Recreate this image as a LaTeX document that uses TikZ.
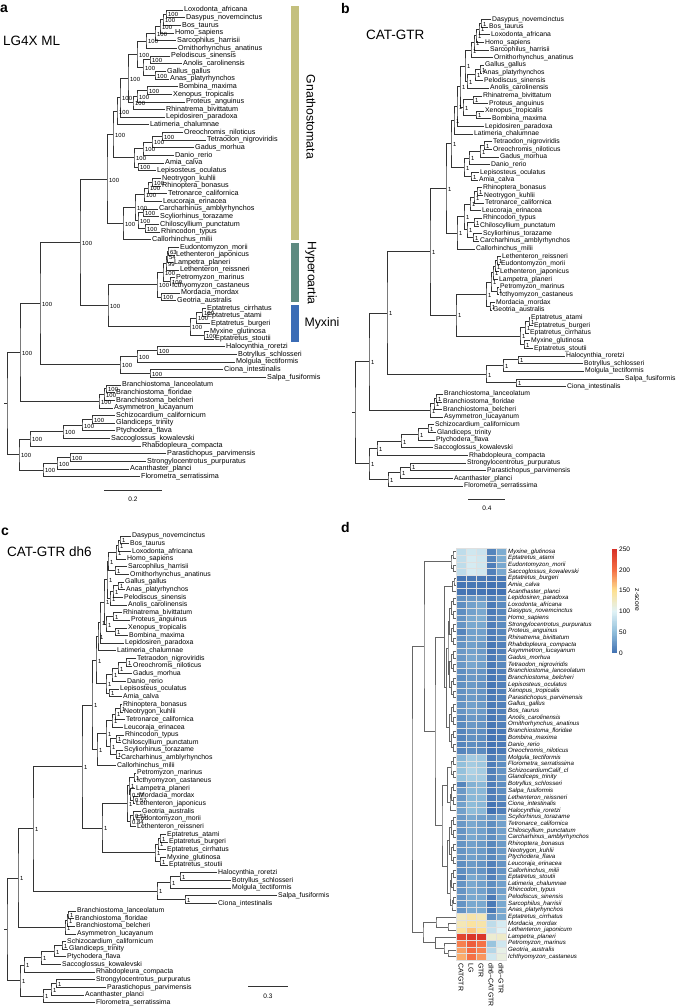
\documentclass[tikz,border=0pt]{standalone}
\usepackage{fontspec}
\setmainfont{Liberation Sans}
\usetikzlibrary{calc}

\definecolor{gnathcol}{RGB}{196,192,126}
\definecolor{hypercol}{RGB}{94,138,128}
\definecolor{myxcol}{RGB}{59,108,181}
\definecolor{z0}{RGB}{66,114,178}
\definecolor{z50}{RGB}{145,191,219}
\definecolor{z100}{RGB}{226,243,246}
\definecolor{z150}{RGB}{254,224,144}
\definecolor{z200}{RGB}{244,109,67}
\definecolor{z250}{RGB}{215,48,39}

\newcommand{\tfont}{\fontsize{7}{8}\selectfont}
\newcommand{\sfont}{\fontsize{5.9}{6}\selectfont}
\def\bsv{100}
\def\ytop{10}
\def\dy{7.65}

\tikzset{
  br/.style={draw=black!80, line width=0.55pt},
  dbr/.style={draw=black!60, line width=0.5pt},
  taxon/.style={anchor=west, inner sep=1pt, font=\tfont},
  bsup/.style={anchor=west, inner sep=0pt, font=\sfont},
  plet/.style={anchor=base west, inner sep=0pt, font=\fontsize{14}{14}\selectfont\bfseries},
  ptitle/.style={anchor=base west, inner sep=0pt, font=\fontsize{13.5}{14}\selectfont},
  clade/.style={inner sep=0pt, font=\fontsize{12.3}{13}\selectfont},
  scl/.style={inner sep=0pt, font=\fontsize{6.5}{7}\selectfont},
  hlab/.style={anchor=west, inner sep=1pt, font=\fontsize{6.1}{6.5}\selectfont\itshape},
  collab/.style={anchor=west, rotate=-90, inner sep=1pt, font=\fontsize{6.9}{7}\selectfont},
  cbl/.style={anchor=west, inner sep=1pt, font=\fontsize{6.5}{7}\selectfont}
}

\newcommand{\tleaf}[4]{%
  \coordinate (#1) at (#2,{\ytop+(#3-1)*\dy});
  \node[taxon] (#1l) at (#1) {#4};}
\newcommand{\tjoin}[5][br]{%
  \path let \p1=($(#4)!0.5!(#5)$) in coordinate (#2) at (#3pt,\y1);
  \draw[#1] (#4) -| (#2) |- (#5);}
\newcommand{\tclade}[5][\bsv]{%
  \tjoin{#2}{#3}{#4}{#5}
  \node[bsup] (#2s) at ([xshift=2pt,yshift=-1pt]#2) {#1};}
\newcommand{\zcol}[1]{%
  \pgfmathsetmacro\zv{#1}%
  \ifdim\zv pt<50pt
    \pgfmathsetmacro\zp{2*\zv}\colorlet{zc}{z50!\zp!z0}%
  \else\ifdim\zv pt<100pt
    \pgfmathsetmacro\zp{2*(\zv-50)}\colorlet{zc}{z100!\zp!z50}%
  \else\ifdim\zv pt<150pt
    \pgfmathsetmacro\zp{2*(\zv-100)}\colorlet{zc}{z150!\zp!z100}%
  \else\ifdim\zv pt<200pt
    \pgfmathsetmacro\zp{2*(\zv-150)}\colorlet{zc}{z200!\zp!z150}%
  \else
    \pgfmathsetmacro\zp{2*(\zv-200)}\colorlet{zc}{z250!\zp!z200}%
  \fi\fi\fi\fi}

\begin{document}
\catcode`\_=12
\begin{tikzpicture}[x=1pt,y=-1pt]
\fill[white] (0,0) rectangle (676,1007);
\useasboundingbox (0,0) rectangle (676,1007);

% a
\node[plet] (labA) at (0,12) {a};
\node[ptitle] (titA) at (3,45) {LG4X ML};
\renewcommand{\tfont}{\fontsize{7.2}{8}\selectfont}
\def\ytop{10}\def\bsv{100}
\tleaf{aLox}{183}{1}{Loxodonta_africana}
\tleaf{aDas}{185}{2}{Dasypus_novemcinctus}
\tleaf{aBos}{181}{3}{Bos_taurus}
\tleaf{aHom}{174}{4}{Homo_sapiens}
\tleaf{aSar}{176}{5}{Sarcophilus_harrisii}
\tleaf{aOrn}{177}{6}{Ornithorhynchus_anatinus}
\tleaf{aPel}{170}{7}{Pelodiscus_sinensis}
\tleaf{aAno}{182}{8}{Anolis_carolinensis}
\tleaf{aGal}{166}{9}{Gallus_gallus}
\tleaf{aAna}{169}{10}{Anas_platyrhynchos}
\tleaf{aBom}{178}{11}{Bombina_maxima}
\tleaf{aXen}{172}{12}{Xenopus_tropicalis}
\tleaf{aPro}{185}{13}{Proteus_anguinus}
\tleaf{aRhi}{165}{14}{Rhinatrema_bivittatum}
\tleaf{aLep}{165}{15}{Lepidosiren_paradoxa}
\tleaf{aLat}{149}{16}{Latimeria_chalumnae}
\tleaf{aOre}{183}{17}{Oreochromis_niloticus}
\tleaf{aTet}{206}{18}{Tetraodon_nigroviridis}
\tleaf{aGad}{194}{19}{Gadus_morhua}
\tleaf{aDan}{174}{20}{Danio_rerio}
\tleaf{aAmi}{164}{21}{Amia_calva}
\tleaf{aLeo}{156}{22}{Lepisosteus_oculatus}
\tleaf{aNeo}{161}{23}{Neotrygon_kuhlii}
\tleaf{aRhb}{161}{24}{Rhinoptera_bonasus}
\tleaf{aTtr}{167}{25}{Tetronarce_californica}
\tleaf{aLeu}{162}{26}{Leucoraja_erinacea}
\tleaf{aCar}{158}{27}{Carcharhinus_amblyrhynchos}
\tleaf{aScy}{159}{28}{Scyliorhinus_torazame}
\tleaf{aChi}{159}{29}{Chiloscyllium_punctatum}
\tleaf{aRhc}{160}{30}{Rhincodon_typus}
\tleaf{aCal}{151}{31}{Callorhinchus_milii}
\tleaf{aEud}{179}{32}{Eudontomyzon_morii}
\tleaf{aLjp}{175}{33}{Lethenteron_japonicus}
\tleaf{aLam}{173}{34}{Lampetra_planeri}
\tleaf{aLrs}{179}{35}{Lethenteron_reissneri}
\tleaf{aPet}{175}{36}{Petromyzon_marinus}
\tleaf{aIch}{171}{37}{Icthyomyzon_castaneus}
\tleaf{aMor}{180}{38}{Mordacia_mordax}
\tleaf{aGeo}{176}{39}{Geotria_australis}
\tleaf{aEci}{206}{40}{Eptatretus_cirrhatus}
\tleaf{aEat}{206}{41}{Eptatretus_atami}
\tleaf{aEbu}{210}{42}{Eptatretus_burgeri}
\tleaf{aMyx}{209}{43}{Myxine_glutinosa}
\tleaf{aEst}{214}{44}{Eptatretus_stoutii}
\tleaf{aHal}{225}{45}{Halocynthia_roretzi}
\tleaf{aBot}{237}{46}{Botryllus_schlosseri}
\tleaf{aMol}{235}{47}{Molgula_tectiformis}
\tleaf{aCio}{223}{48}{Ciona_intestinalis}
\tleaf{aSal}{266}{49}{Salpa_fusiformis}
\tleaf{aBla}{121}{50}{Branchiostoma_lanceolatum}
\tleaf{aBfl}{115}{51}{Branchiostoma_floridae}
\tleaf{aBbe}{115}{52}{Branchiostoma_belcheri}
\tleaf{aAsy}{113}{53}{Asymmetron_lucayanum}
\tleaf{aSch}{115}{54}{Schizocardium_californicum}
\tleaf{aGla}{115}{55}{Glandiceps_trinity}
\tleaf{aPty}{115}{56}{Ptychodera_flava}
\tleaf{aSac}{110}{57}{Saccoglossus_kowalevski}
\tleaf{aRha}{141}{58}{Rhabdopleura_compacta}
\tleaf{aPar}{166}{59}{Parastichopus_parvimensis}
\tleaf{aStr}{146}{60}{Strongylocentrotus_purpuratus}
\tleaf{aAca}{129}{61}{Acanthaster_planci}
\tleaf{aFlo}{140}{62}{Florometra_serratissima}
\tclade{aP1}{166}{aLox}{aDas}
\tclade{aP2}{163}{aP1}{aBos}
\tclade{aP3}{160}{aP2}{aHom}
\tclade{aP4}{155}{aP3}{aSar}
\tclade{aMam}{146}{aP4}{aOrn}
\tclade{aP5}{150}{aPel}{aAno}
\tclade{aP6}{155}{aGal}{aAna}
\tclade{aSau}{143}{aP5}{aP6}
\tclade{aAmn}{137}{aMam}{aSau}
\tclade{aP7}{147}{aBom}{aXen}
\tclade{aP8}{137}{aP7}{aPro}
\tclade{aAmp}{133}{aP8}{aRhi}
\tclade{aTpd}{128}{aAmn}{aAmp}
\tclade{aP9}{120}{aTpd}{aLep}
\tclade{aSrc}{117}{aP9}{aLat}
\tclade{aP10}{162}{aOre}{aTet}
\tclade{aP11}{152}{aP10}{aGad}
\tclade{aTel}{143}{aP11}{aDan}
\tclade{aHol}{138}{aAmi}{aLeo}
\tclade{aAct}{134}{aTel}{aHol}
\tclade{aOst}{113}{aSrc}{aAct}
\tclade{aP12}{152}{aNeo}{aRhb}
\tclade{aP13}{148}{aP12}{aTtr}
\tclade{aBat}{144}{aP13}{aLeu}
\tclade{aP14}{143}{aCar}{aScy}
\tclade{aP15}{145}{aChi}{aRhc}
\tclade{aShk}{138}{aP14}{aP15}
\tclade{aEla}{135}{aBat}{aShk}
\tclade{aChd}{123}{aEla}{aCal}
\tclade{aGna}{107}{aOst}{aChd}
\tclade[63]{aP16}{168}{aEud}{aLjp}
\tclade[54]{aP17}{167}{aP16}{aLam}
\tclade[99]{aP18}{166}{aP17}{aLrs}
\tclade{aP19}{170}{aPet}{aIch}
\tclade{aP20}{163}{aP18}{aP19}
\tclade{aP21}{161}{aMor}{aGeo}
\tclade{aLmp}{157}{aP20}{aP21}
\tclade{aP22}{202}{aEci}{aEat}
\tclade{aP23}{196}{aP22}{aEbu}
\tclade{aP24}{204}{aMyx}{aEst}
\tclade{aHag}{190}{aP23}{aP24}
\tclade{aCyc}{108}{aLmp}{aHag}
\tclade{aVer}{80}{aGna}{aCyc}
\tclade{aP25}{157}{aHal}{aBot}
\tclade{aP26}{137}{aP25}{aMol}
\tclade{aP27}{150}{aCio}{aSal}
\tclade{aTun}{120}{aP26}{aP27}
\tclade{aOlf}{40}{aVer}{aTun}
\tclade{aP28}{106}{aBla}{aBfl}
\tclade{aP29}{104}{aP28}{aBbe}
\tclade{aCep}{99}{aP29}{aAsy}
\tclade{aCho}{20}{aOlf}{aCep}
\tclade{aP30}{92}{aSch}{aGla}
\tclade{aP31}{82}{aP30}{aPty}
\tclade{aEnt}{63}{aP31}{aSac}
\tclade{aHem}{30}{aEnt}{aRha}
\tclade{aP32}{70}{aPar}{aStr}
\tclade{aP33}{57}{aP32}{aAca}
\tclade{aEch}{43}{aP33}{aFlo}
\tclade{aAmb}{19}{aHem}{aEch}
\tjoin{aRoot}{7}{aCho}{aAmb}
\coordinate (aStub) at ($(aRoot)+(-3,0)$);
\draw[br] (aStub) -- (aRoot);
\fill[gnathcol] (291,6) rectangle (299,240);
\fill[hypercol] (291,243) rectangle (299,302);
\fill[myxcol] (291,305) rectangle (299,342);
\node[clade, rotate=-90] (gnathL) at (311,117) {Gnathostomata};
\node[clade, rotate=-90] (hyperL) at (311,273) {Hyperoartia};
\node[clade] (myxL) at (322,323) {Myxini};
\coordinate (aSb1) at (104,490);
\coordinate (aSb2) at (162,490);
\draw[br] (aSb1) -- (aSb2);
\node[scl] (aSbl) at (133,499) {0.2};

% b
\node[plet] (labB) at (341,13) {b};
\node[ptitle] (titB) at (366,39.5) {CAT-GTR};
\renewcommand{\tfont}{\fontsize{6.8}{8}\selectfont}
\def\ytop{19.3}\def\bsv{1}
\tleaf{bDas}{491}{1}{Dasypus_novemcinctus}
\tleaf{bBos}{488}{2}{Bos_taurus}
\tleaf{bLox}{490}{3}{Loxodonta_africana}
\tleaf{bHom}{484}{4}{Homo_sapiens}
\tleaf{bSar}{489}{5}{Sarcophilus_harrisii}
\tleaf{bOrn}{493}{6}{Ornithorhynchus_anatinus}
\tleaf{bGal}{484}{7}{Gallus_gallus}
\tleaf{bAna}{482}{8}{Anas_platyrhynchos}
\tleaf{bPel}{483}{9}{Pelodiscus_sinensis}
\tleaf{bAno}{489}{10}{Anolis_carolinensis}
\tleaf{bRhi}{482}{11}{Rhinatrema_bivittatum}
\tleaf{bPro}{488}{12}{Proteus_anguinus}
\tleaf{bXen}{484}{13}{Xenopus_tropicalis}
\tleaf{bBom}{491}{14}{Bombina_maxima}
\tleaf{bLep}{484}{15}{Lepidosiren_paradoxa}
\tleaf{bLat}{473}{16}{Latimeria_chalumnae}
\tleaf{bTet}{492}{17}{Tetraodon_nigroviridis}
\tleaf{bOre}{492}{18}{Oreochromis_niloticus}
\tleaf{bGad}{499}{19}{Gadus_morhua}
\tleaf{bDan}{490}{20}{Danio_rerio}
\tleaf{bLeo}{479}{21}{Lepisosteus_oculatus}
\tleaf{bAmi}{478}{22}{Amia_calva}
\tleaf{bRhb}{482}{23}{Rhinoptera_bonasus}
\tleaf{bNeo}{483}{24}{Neotrygon_kuhlii}
\tleaf{bTtr}{484}{25}{Tetronarce_californica}
\tleaf{bLeu}{481}{26}{Leucoraja_erinacea}
\tleaf{bRhc}{482}{27}{Rhincodon_typus}
\tleaf{bChi}{479}{28}{Chiloscyllium_punctatum}
\tleaf{bScy}{482}{29}{Scyliorhinus_torazame}
\tleaf{bCar}{479}{30}{Carcharhinus_amblyrhynchos}
\tleaf{bCal}{475}{31}{Callorhinchus_milii}
\tleaf{bLrs}{501}{32}{Lethenteron_reissneri}
\tleaf{bEud}{500}{33}{Eudontomyzon_morii}
\tleaf{bLjp}{499}{34}{Lethenteron_japonicus}
\tleaf{bLam}{498}{35}{Lampetra_planeri}
\tleaf{bPet}{499}{36}{Petromyzon_marinus}
\tleaf{bIch}{499}{37}{Icthyomyzon_castaneus}
\tleaf{bMor}{495}{38}{Mordacia_mordax}
\tleaf{bGeo}{492}{39}{Geotria_australis}
\tleaf{bEat}{530}{40}{Eptatretus_atami}
\tleaf{bEbu}{533}{41}{Eptatretus_burgeri}
\tleaf{bEci}{529}{42}{Eptatretus_cirrhatus}
\tleaf{bMyx}{530}{43}{Myxine_glutinosa}
\tleaf{bEst}{533}{44}{Eptatretus_stoutii}
\tleaf{bHal}{565}{45}{Halocynthia_roretzi}
\tleaf{bBot}{583}{46}{Botryllus_schlosseri}
\tleaf{bMol}{584}{47}{Molgula_tectiformis}
\tleaf{bSal}{624}{48}{Salpa_fusiformis}
\tleaf{bCio}{566}{49}{Ciona_intestinalis}
\tleaf{bBla}{443}{50}{Branchiostoma_lanceolatum}
\tleaf{bBfl}{442}{51}{Branchiostoma_floridae}
\tleaf{bBbe}{442}{52}{Branchiostoma_belcheri}
\tleaf{bAsy}{443}{53}{Asymmetron_lucayanum}
\tleaf{bSch}{434}{54}{Schizocardium_californicum}
\tleaf{bGla}{436}{55}{Glandiceps_trinity}
\tleaf{bPty}{435}{56}{Ptychodera_flava}
\tleaf{bSac}{433}{57}{Saccoglossus_kowalevski}
\tleaf{bRha}{468}{58}{Rhabdopleura_compacta}
\tleaf{bStr}{466}{59}{Strongylocentrotus_purpuratus}
\tleaf{bPar}{486}{60}{Parastichopus_parvimensis}
\tleaf{bAca}{453}{61}{Acanthaster_planci}
\tleaf{bFlo}{463}{62}{Florometra_serratissima}
\tclade{bP1}{481}{bDas}{bBos}
\tclade{bP2}{479}{bP1}{bLox}
\tclade{bP3}{476}{bP2}{bHom}
\tclade{bP4}{474}{bP3}{bSar}
\tclade{bMam}{471}{bP4}{bOrn}
\tclade{bP5}{480}{bGal}{bAna}
\tclade{bP6}{475}{bP5}{bPel}
\tclade{bSau}{467}{bP6}{bAno}
\tclade{bAmn}{465}{bMam}{bSau}
\tclade{bP7}{473}{bRhi}{bPro}
\tclade{bP8}{476}{bXen}{bBom}
\tclade{bAmp}{463}{bP7}{bP8}
\tclade{bTpd}{460}{bAmn}{bAmp}
\tclade{bP9}{457}{bTpd}{bLep}
\tclade{bSrc}{454}{bP9}{bLat}
\tclade{bP10}{484}{bTet}{bOre}
\tclade{bP11}{480}{bP10}{bGad}
\tclade{bTel}{469}{bP11}{bDan}
\tclade{bHol}{471}{bLeo}{bAmi}
\tclade{bAct}{464}{bTel}{bHol}
\tclade{bOst}{451}{bSrc}{bAct}
\tclade{bP12}{477}{bRhb}{bNeo}
\tclade{bP13}{474}{bP12}{bTtr}
\tclade{bBat}{470}{bP13}{bLeu}
\tclade{bP14}{474}{bRhc}{bChi}
\tclade{bP15}{473}{bScy}{bCar}
\tclade{bShk}{467}{bP14}{bP15}
\tclade{bEla}{464}{bBat}{bShk}
\tclade{bChd}{457}{bEla}{bCal}
\tclade{bGna}{446}{bOst}{bChd}
\tclade{bP16}{497}{bLrs}{bEud}
\tclade{bP17}{495}{bP16}{bLjp}
\tclade{bP18}{493}{bP17}{bLam}
\tclade{bP19}{497}{bPet}{bIch}
\tclade{bP20}{491}{bP18}{bP19}
\tclade{bP21}{490}{bMor}{bGeo}
\tclade{bLmp}{486}{bP20}{bP21}
\tclade{bP22}{529}{bEat}{bEbu}
\tclade{bP23}{525}{bP22}{bEci}
\tclade{bP24}{524}{bMyx}{bEst}
\tclade{bHag}{520}{bP23}{bP24}
\tclade{bCyc}{456}{bLmp}{bHag}
\tclade{bVer}{430}{bGna}{bCyc}
\tclade{bP25}{518}{bHal}{bBot}
\tclade{bP26}{503}{bP25}{bMol}
\tclade{bP27}{516}{bSal}{bCio}
\tclade{bTun}{486}{bP26}{bP27}
\tclade{bOlf}{387}{bVer}{bTun}
\tclade{bP28}{436}{bBla}{bBfl}
\tclade{bP29}{434}{bP28}{bBbe}
\tclade{bCep}{430}{bP29}{bAsy}
\tclade{bCho}{369}{bOlf}{bCep}
\tclade{bP30}{428}{bSch}{bGla}
\tclade{bP31}{418}{bP30}{bPty}
\tclade{bEnt}{401}{bP31}{bSac}
\tclade{bHem}{377}{bEnt}{bRha}
\tclade{bP32}{410}{bStr}{bPar}
\tclade{bP33}{400}{bP32}{bAca}
\tclade{bEch}{388}{bP33}{bFlo}
\tclade{bAmb}{369}{bHem}{bEch}
\tjoin{bRoot}{355}{bCho}{bAmb}
\coordinate (bStub) at ($(bRoot)+(-3,0)$);
\draw[br] (bStub) -- (bRoot);
\coordinate (bSb1) at (468,499);
\coordinate (bSb2) at (505,499);
\draw[br] (bSb1) -- (bSb2);
\node[scl] (bSbl) at (487,508) {0.4};

% c
\node[plet] (labC) at (1,535) {c};
\node[ptitle] (titC) at (7,556) {CAT-GTR dh6};
\renewcommand{\tfont}{\fontsize{6.9}{8}\selectfont}
\def\ytop{536}\def\bsv{1}
\tleaf{cDas}{131}{1}{Dasypus_novemcinctus}
\tleaf{cBos}{129}{2}{Bos_taurus}
\tleaf{cLox}{131}{3}{Loxodonta_africana}
\tleaf{cHom}{126}{4}{Homo_sapiens}
\tleaf{cSar}{127}{5}{Sarcophilus_harrisii}
\tleaf{cOrn}{129}{6}{Ornithorhynchus_anatinus}
\tleaf{cGal}{124}{7}{Gallus_gallus}
\tleaf{cAna}{125}{8}{Anas_platyrhynchos}
\tleaf{cPel}{123}{9}{Pelodiscus_sinensis}
\tleaf{cAno}{127}{10}{Anolis_carolinensis}
\tleaf{cRhi}{122}{11}{Rhinatrema_bivittatum}
\tleaf{cPro}{130}{12}{Proteus_anguinus}
\tleaf{cXen}{127}{13}{Xenopus_tropicalis}
\tleaf{cBom}{128}{14}{Bombina_maxima}
\tleaf{cLep}{124}{15}{Lepidosiren_paradoxa}
\tleaf{cLat}{116}{16}{Latimeria_chalumnae}
\tleaf{cTet}{136}{17}{Tetraodon_nigroviridis}
\tleaf{cOre}{132}{18}{Oreochromis_niloticus}
\tleaf{cGad}{132}{19}{Gadus_morhua}
\tleaf{cDan}{126}{20}{Danio_rerio}
\tleaf{cLeo}{119}{21}{Lepisosteus_oculatus}
\tleaf{cAmi}{122}{22}{Amia_calva}
\tleaf{cRhb}{122}{23}{Rhinoptera_bonasus}
\tleaf{cNeo}{123}{24}{Neotrygon_kuhlii}
\tleaf{cTtr}{125}{25}{Tetronarce_californica}
\tleaf{cLeu}{123}{26}{Leucoraja_erinacea}
\tleaf{cRhc}{124}{27}{Rhincodon_typus}
\tleaf{cChi}{121}{28}{Chiloscyllium_punctatum}
\tleaf{cScy}{123}{29}{Scyliorhinus_torazame}
\tleaf{cCar}{120}{30}{Carcharhinus_amblyrhynchos}
\tleaf{cCal}{116}{31}{Callorhinchus_milii}
\tleaf{cPet}{136}{32}{Petromyzon_marinus}
\tleaf{cIch}{136}{33}{Icthyomyzon_castaneus}
\tleaf{cLam}{135}{34}{Lampetra_planeri}
\tleaf{cMor}{138}{35}{Mordacia_mordax}
\tleaf{cLjp}{135}{36}{Lethenteron_japonicus}
\tleaf{cGeo}{141}{37}{Geotria_australis}
\tleaf{cEud}{135}{38}{Eudontomyzon_morii}
\tleaf{cLrs}{136}{39}{Lethenteron_reissneri}
\tleaf{cEat}{166}{40}{Eptatretus_atami}
\tleaf{cEbu}{168}{41}{Eptatretus_burgeri}
\tleaf{cEci}{166}{42}{Eptatretus_cirrhatus}
\tleaf{cMyx}{166}{43}{Myxine_glutinosa}
\tleaf{cEst}{168}{44}{Eptatretus_stoutii}
\tleaf{cHal}{217}{45}{Halocynthia_roretzi}
\tleaf{cBot}{231}{46}{Botryllus_schlosseri}
\tleaf{cMol}{231}{47}{Molgula_tectiformis}
\tleaf{cSal}{277}{48}{Salpa_fusiformis}
\tleaf{cCio}{217}{49}{Ciona_intestinalis}
\tleaf{cBla}{76}{50}{Branchiostoma_lanceolatum}
\tleaf{cBfl}{74}{51}{Branchiostoma_floridae}
\tleaf{cBbe}{75}{52}{Branchiostoma_belcheri}
\tleaf{cAsy}{76}{53}{Asymmetron_lucayanum}
\tleaf{cSch}{66}{54}{Schizocardium_californicum}
\tleaf{cGla}{68}{55}{Glandiceps_trinity}
\tleaf{cPty}{66}{56}{Ptychodera_flava}
\tleaf{cSac}{61}{57}{Saccoglossus_kowalevski}
\tleaf{cRha}{95}{58}{Rhabdopleura_compacta}
\tleaf{cStr}{95}{59}{Strongylocentrotus_purpuratus}
\tleaf{cPar}{106}{60}{Parastichopus_parvimensis}
\tleaf{cAca}{84}{61}{Acanthaster_planci}
\tleaf{cFlo}{95}{62}{Florometra_serratissima}
\tclade{cP1}{120}{cDas}{cBos}
\tclade{cP2}{118}{cP1}{cLox}
\tclade{cP3}{116}{cP2}{cHom}
\tclade{cP4}{115}{cSar}{cOrn}
\tclade{cMam}{108}{cP3}{cP4}
\tclade{cP5}{118}{cGal}{cAna}
\tclade{cP6}{113}{cP5}{cPel}
\tclade{cSau}{110}{cP6}{cAno}
\tclade{cAmn}{107}{cMam}{cSau}
\tclade{cP7}{113}{cRhi}{cPro}
\tclade{cP8}{115}{cXen}{cBom}
\tclade{cAmp}{106}{cP7}{cP8}
\tclade{cTpd}{104}{cAmn}{cAmp}
\tclade{cP9}{100}{cTpd}{cLep}
\tclade{cSrc}{98}{cP9}{cLat}
\tclade{cP10}{126}{cTet}{cOre}
\tclade{cP11}{118}{cP10}{cGad}
\tclade{cTel}{112}{cP11}{cDan}
\tclade{cHol}{109}{cLeo}{cAmi}
\tclade{cAct}{106}{cTel}{cHol}
\tclade{cOst}{96}{cSrc}{cAct}
\tclade{cP12}{120}{cRhb}{cNeo}
\tclade{cP13}{115}{cP12}{cTtr}
\tclade{cBat}{112}{cP13}{cLeu}
\tclade{cP14}{116}{cRhc}{cChi}
\tclade{cP15}{116}{cScy}{cCar}
\tclade{cShk}{110}{cP14}{cP15}
\tclade{cEla}{106}{cBat}{cShk}
\tclade{cChd}{97}{cEla}{cCal}
\tclade{cGna}{92}{cOst}{cChd}
\tclade{cP16}{134}{cPet}{cIch}
\tclade[0.57]{cP17}{133}{cMor}{cLjp}
\tclade[0.57]{cP18}{130}{cLam}{cP17}
\tclade{cP19}{129}{cP16}{cP18}
\tclade[0.51]{cP20}{133}{cGeo}{cEud}
\tclade[0.84]{cP21}{130}{cP20}{cLrs}
\tclade{cLmp}{127}{cP19}{cP21}
\tclade{cP22}{160}{cEat}{cEbu}
\tclade{cP23}{158}{cP22}{cEci}
\tclade{cP24}{160}{cMyx}{cEst}
\tclade{cHag}{155}{cP23}{cP24}
\tclade{cCyc}{102}{cLmp}{cHag}
\tclade{cVer}{82}{cGna}{cCyc}
\tclade{cP25}{180}{cHal}{cBot}
\tclade{cP26}{170}{cP25}{cMol}
\tclade{cP27}{185}{cSal}{cCio}
\tclade{cTun}{157}{cP26}{cP27}
\tclade{cOlf}{33}{cVer}{cTun}
\tclade{cP28}{68}{cBla}{cBfl}
\tclade{cP29}{67}{cP28}{cBbe}
\tclade{cCep}{65}{cP29}{cAsy}
\tclade{cCho}{18}{cOlf}{cCep}
\tclade{cP30}{62}{cSch}{cGla}
\tclade{cP31}{54}{cP30}{cPty}
\tclade{cEnt}{41}{cP31}{cSac}
\tclade{cHem}{24}{cEnt}{cRha}
\tclade{cP32}{56}{cStr}{cPar}
\tclade{cP33}{51}{cP32}{cAca}
\tclade{cEch}{43}{cP33}{cFlo}
\tclade{cAmb}{20}{cHem}{cEch}
\tjoin{cRoot}{7}{cCho}{cAmb}
\coordinate (cStub) at ($(cRoot)+(-3,0)$);
\draw[br] (cStub) -- (cRoot);
\coordinate (cSb1) at (248,986);
\coordinate (cSb2) at (288,986);
\draw[br] (cSb1) -- (cSb2);
\node[scl] (cSbl) at (268,996) {0.3};

% d
\node[plet] (labD) at (341,532) {d};
\foreach \r/\nm/\vals in {
  1/Myxine_glutinosa/{78,88,85,12,38},
  2/Eptatretus_atami/{80,92,88,12,38},
  3/Eudontomyzon_morii/{78,92,88,8,35},
  4/Saccoglossus_kowalevski/{78,92,88,10,35},
  5/Eptatretus_burgeri/{2,4,4,2,4},
  6/Amia_calva/{2,4,4,0,4},
  7/Acanthaster_planci/{2,2,2,0,2},
  8/Lepidosiren_paradoxa/{20,25,25,10,18},
  9/Loxodonta_africana/{18,30,35,6,16},
  10/Dasypus_novemcinctus/{18,30,35,6,14},
  11/Homo_sapiens/{22,35,38,10,16},
  12/Strongylocentrotus_purpuratus/{22,35,35,8,16},
  13/Proteus_anguinus/{12,30,30,8,14},
  14/Rhinatrema_bivittatum/{20,30,30,6,14},
  15/Rhabdopleura_compacta/{22,30,26,4,10},
  16/Asymmetron_lucayanum/{25,30,26,4,10},
  17/Gadus_morhua/{25,34,30,6,14},
  18/Tetraodon_nigroviridis/{25,34,30,6,14},
  19/Branchiostoma_lanceolatum/{18,25,22,4,10},
  20/Branchiostoma_belcheri/{18,25,22,4,10},
  21/Lepisosteus_oculatus/{20,26,22,4,10},
  22/Xenopus_tropicalis/{20,26,22,4,10},
  23/Parastichopus_parvimensis/{20,26,22,6,10},
  24/Gallus_gallus/{22,30,26,6,10},
  25/Bos_taurus/{22,30,26,6,10},
  26/Anolis_carolinensis/{16,25,22,4,10},
  27/Ornithorhynchus_anatinus/{16,25,22,4,10},
  28/Branchiostoma_floridae/{12,20,18,2,6},
  29/Bombina_maxima/{12,20,18,2,6},
  30/Danio_rerio/{12,18,16,2,6},
  31/Oreochromis_niloticus/{12,18,16,2,6},
  32/Molgula_tectiformis/{45,62,58,8,18},
  33/Florometra_serratissima/{50,62,58,8,18},
  34/SchizocardiumCalif_cl/{52,68,62,10,22},
  35/Glandiceps_trinity/{52,62,62,10,22},
  36/Botryllus_schlosseri/{12,40,45,8,18},
  37/Salpa_fusiformis/{25,45,45,8,18},
  38/Lethenteron_reissneri/{25,45,45,8,14},
  39/Ciona_intestinalis/{30,48,45,2,10},
  40/Halocynthia_roretzi/{30,48,45,0,10},
  41/Scyliorhinus_torazame/{25,35,30,22,30},
  42/Tetronarce_californica/{25,35,30,18,30},
  43/Chiloscyllium_punctatum/{22,35,30,18,30},
  44/Carcharhinus_amblyrhynchos/{22,35,30,18,30},
  45/Rhinoptera_bonasus/{22,30,26,14,26},
  46/Neotrygon_kuhlii/{22,30,26,14,26},
  47/Ptychodera_flava/{22,30,26,14,26},
  48/Leucoraja_erinacea/{18,26,22,10,22},
  49/Callorhinchus_milii/{18,26,22,10,22},
  50/Eptatretus_stoutii/{12,35,30,10,26},
  51/Latimeria_chalumnae/{22,35,30,18,30},
  52/Rhincodon_typus/{22,35,30,18,30},
  53/Pelodiscus_sinensis/{22,35,35,6,35},
  54/Sarcophilus_harrisii/{22,35,35,6,35},
  55/Anas_platyrhynchos/{22,35,35,6,35},
  56/Eptatretus_cirrhatus/{128,138,132,20,35},
  57/Mordacia_mordax/{132,142,138,78,92},
  58/Lethenteron_japonicum/{142,162,148,82,98},
  59/Lampetra_planeri/{232,245,245,118,122},
  60/Petromyzon_marinus/{192,212,198,55,88},
  61/Geotria_australis/{178,202,192,72,108},
  62/Ichthyomyzon_castaneus/{172,198,182,88,112}}{
  \foreach \v [count=\c] in \vals {
    \zcol{\v}
    \fill[zc, draw=black!12, line width=0.15pt] ({446+10*\c},{541.66+6.64*\r}) rectangle ++(10,6.64);
  }
  \node[hlab] (h\r) at (507,{544.98+6.64*\r}) {\nm};
  \coordinate (d\r) at (455.5,{544.98+6.64*\r});
}
\tjoin[dbr]{dA1}{453}{d1}{d2}
\tjoin[dbr]{dA2}{453.5}{d3}{d4}
\tjoin[dbr]{dG1}{451}{dA1}{dA2}
\tjoin[dbr]{dB1}{454}{d5}{d6}
\tjoin[dbr]{dG2}{452.5}{dB1}{d7}
\foreach \r in {8,10,...,30,32,34,36,38,41,43,...,53}{\pgfmathtruncatemacro\nx{\r+1}\tjoin[dbr]{dp\r}{453.5}{d\r}{d\nx}}
\foreach \r in {8,12,...,28,41,45,49}{\pgfmathtruncatemacro\nx{\r+2}\tjoin[dbr]{dq\r}{451.5}{dp\r}{dp\nx}}
\foreach \r in {8,16,24}{\pgfmathtruncatemacro\nx{\r+4}\tjoin[dbr]{do\r}{449.5}{dq\r}{dq\nx}}
\tjoin[dbr]{dG3a}{448}{do8}{do16}
\tjoin[dbr]{dG3}{446.5}{dG3a}{do24}
\tjoin[dbr]{dG23}{444.5}{dG2}{dG3}
\tjoin[dbr]{dq32}{451}{dp32}{dp34}
\tjoin[dbr]{dq36}{451.5}{dp36}{dp38}
\tjoin[dbr]{dq36b}{450}{dq36}{d40}
\tjoin[dbr]{dG4}{447.5}{dq32}{dq36b}
\tjoin[dbr]{dt53}{452}{dp53}{d55}
\tjoin[dbr]{do41}{449.5}{dq41}{dq45}
\tjoin[dbr]{do49}{450}{dq49}{dt53}
\tjoin[dbr]{dG5}{447.5}{do41}{do49}
\tjoin[dbr]{dG45}{442}{dG4}{dG5}
\tjoin[dbr]{dBB}{435}{dG23}{dG45}
\tjoin[dbr]{dA}{424}{dG1}{dBB}
\tjoin[dbr]{dp57}{448}{d57}{d58}
\tjoin[dbr]{dG6}{436}{d56}{dp57}
\tjoin[dbr]{dp61}{448}{d61}{d62}
\tjoin[dbr]{dq60}{444}{d60}{dp61}
\tjoin[dbr]{dG7}{435.5}{d59}{dq60}
\tjoin[dbr]{dB}{423}{dG6}{dG7}
\tjoin[dbr]{dRoot}{412}{dA}{dB}
\foreach \t [count=\c] in {CATGTR,LG,GTR,dh6−CATGTR,dh6−GTR}
  \node[collab] (col\c) at ({451+10*\c},962) {\t};
\foreach \v in {0,2,...,248}{
  \zcol{\v+1}
  \fill[zc] (612,{653-0.416*(\v+2.2)}) rectangle (617,{653-0.416*\v});
}
\foreach \v in {0,50,...,250}
  \node[cbl] (cb\v) at (618,{653-0.416*\v}) {\v};
\node[rotate=-90, inner sep=0pt, font=\fontsize{6.8}{7}\selectfont] (zlab) at (637,600) {z-score};
\end{tikzpicture}
\end{document}
